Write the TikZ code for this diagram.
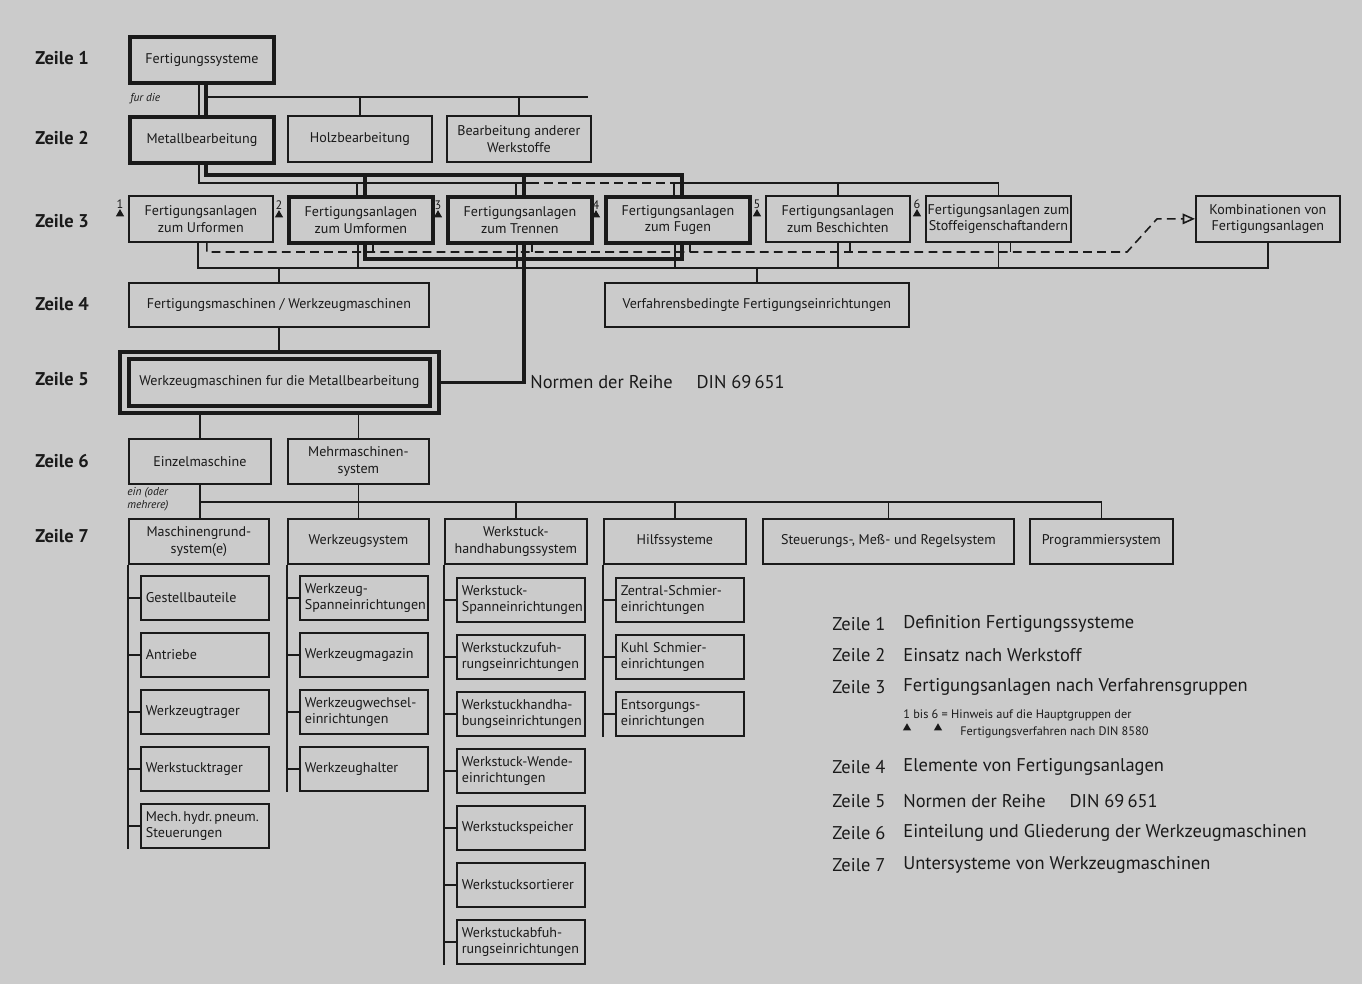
\documentclass[tikz,border=0pt]{standalone}
\usepackage{fontspec}
\setmainfont{PT Sans}
\usetikzlibrary{arrows.meta,positioning,calc,shapes.geometric}
\definecolor{paper}{HTML}{CBCBCB}
\definecolor{ink}{HTML}{1A1A1A}

\begin{document}
\begin{tikzpicture}[x=0.02cm,y=-0.02cm,ink,font=\fontsize{8}{9.4}\selectfont,
  box/.style={draw,line width=1pt,anchor=north west,align=center,inner sep=1pt,minimum width=2.88cm,minimum height=0.93cm},
  sub/.style={draw,line width=1pt,anchor=north west,align=left,inner xsep=0.1cm,inner ysep=1pt,text width=2.36cm,minimum height=0.88cm},
  ln/.style={line width=0.8pt}, bl/.style={line width=2pt},
  dsh/.style={line width=0.9pt,dash pattern=on 5pt off 3pt},
  zeile/.style={font=\fontsize{10.5}{12}\selectfont\bfseries,anchor=west,inner sep=0pt},
  leg/.style={font=\fontsize{10.5}{12}\selectfont,anchor=west,inner sep=0pt},
  small/.style={font=\fontsize{7}{8}\selectfont,anchor=west,inner sep=0pt},
  tri/.style={regular polygon,regular polygon sides=3,fill,inner sep=0pt,minimum size=0.19cm},
  note/.style={font=\fontsize{6.5}{7.2}\selectfont\itshape,anchor=west,align=left,inner sep=0pt}]
\fill[paper] (0,0) rectangle (1362,984);
\useasboundingbox (0,0) rectangle (1362,984);

% Zeilen links
\foreach \y/\k in {58/1,138/2,221/3,304/4,379/5,461/6,536/7}
  \node[zeile] (z\k) at (35,\y) {Zeile \k};

% Zeile 1 und 2
\node[box,line width=2.2pt] (fs) at (128,35) {Fertigungssysteme};
\node[box,line width=2.2pt] (mb) at (128,115) {Metallbearbeitung};
\node[box] (hb) at (287,115) {Holzbearbeitung};
\node[box] (bw) at (446,115) {Bearbeitung anderer\\Werkstoffe};
\node[note] (fd) at (130,99) {fur die};

% Zeile 3
\foreach \x/\n/\w/\t/\k in {128/ur/1/{Fertigungsanlagen\\zum Urformen}/1,
    287/um/2.2/{Fertigungsanlagen\\zum Umformen}/2, 446/tr/2.2/{Fertigungsanlagen\\zum Trennen}/3,
    604/fu/2.2/{Fertigungsanlagen\\zum Fugen}/4, 765/be/1/{Fertigungsanlagen\\zum Beschichten}/5,
    925/st/1/{Fertigungsanlagen zum\\Stoffeigenschaftandern}/6}{
  \node[box,line width=\w pt,minimum height=0.92cm] (\n) at (\x,195) {\t};
  \node[tri] (t\k) at ($(\n.west)+(-8,-5)$) {};
  \node[small,anchor=center] (k\k) at ($(\n.west)+(-8,-15)$) {\k};}
\node[box,minimum height=0.92cm] (ko) at (1195,195) {Kombinationen von\\Fertigungsanlagen};

% Zeile 4 und 5
\node[box,minimum width=6cm,minimum height=0.88cm] (fm) at (128,282) {Fertigungsmaschinen / Werkzeugmaschinen};
\node[box,minimum width=6.08cm,minimum height=0.88cm] (vf) at (604,282) {Verfahrensbedingte Fertigungseinrichtungen};
\node[box,line width=2.2pt,minimum width=6.38cm,minimum height=1.22cm] (wmo) at (118,350) {};
\node[box,line width=2.2pt,minimum width=6.02cm,minimum height=0.94cm] (wm) at (127,357) {Werkzeugmaschinen fur die Metallbearbeitung};
\node[leg] (din) at (530,382) {Normen der Reihe\hspace{1.3em}DIN 69\,651};

% Zeile 6 und 7
\node[box,minimum width=2.84cm,minimum height=0.9cm] (ez) at (128,438) {Einzelmaschine};
\node[box,minimum width=2.82cm,minimum height=0.9cm] (mm) at (287,438) {Mehrmaschinen-\\system};
\node[note] (em) at (127,499) {ein (oder\\mehrere)};
\foreach \x/\n/\w/\t in {128/mg/2.8/{Maschinengrund-\\system(e)}, 287/wz/2.82/Werkzeugsystem,
    444/wh/2.84/{Werkstuck-\\handhabungssystem}, 603/hs/2.84/Hilfssysteme,
    762/sm/5.02/{Steuerungs-, Meß- und Regelsystem}, 1029/pg/2.86/Programmiersystem}
  \node[box,minimum width=\w cm,minimum height=0.9cm] (\n) at (\x,518) {\t};

% Untersysteme
\foreach \t [count=\i] in {Gestellbauteile, Antriebe, Werkzeugtrager, Werkstucktrager, {Mech.\,hydr.\,pneum.\\Steuerungen}}{
  \node[sub] (a\i) at (140,518+57*\i) {\t};
  \draw[ln] (a\i.west) -- (a\i.west -| mg.south west);}
\foreach \t [count=\i] in {{Werkzeug-\\Spanneinrichtungen}, Werkzeugmagazin, {Werkzeugwechsel-\\einrichtungen}, Werkzeughalter}{
  \node[sub] (b\i) at (299,518+57*\i) {\t};
  \draw[ln] (b\i.west) -- (b\i.west -| wz.south west);}
\foreach \t [count=\i] in {{Werkstuck-\\Spanneinrichtungen}, {Werkstuckzufuh-\\rungseinrichtungen},
    {Werkstuckhandha-\\bungseinrichtungen}, {Werkstuck-Wende-\\einrichtungen}, Werkstuckspeicher,
    Werkstucksortierer, {Werkstuckabfuh-\\rungseinrichtungen}}{
  \node[sub] (c\i) at (456,520+57*\i) {\t};
  \draw[ln] (c\i.west) -- (c\i.west -| wh.south west);}
\foreach \t [count=\i] in {{Zentral-Schmier-\\einrichtungen}, {Kuhl Schmier-\\einrichtungen}, {Entsorgungs-\\einrichtungen}}{
  \node[sub] (d\i) at (615,520+57*\i) {\t};
  \draw[ln] (d\i.west) -- (d\i.west -| hs.south west);}
\draw[ln] (mg.south west) -- (mg.south west |- a5.south);
\draw[ln] (wz.south west) -- (wz.south west |- b4.south);
\draw[ln] (wh.south west) -- (wh.south west |- c7.south);
\draw[ln] (hs.south west) -- (hs.south west |- d3.south);

% Verbindungen Zeile 1-2
\coordinate (tb) at (0,97);
\draw[bl] ($(fs.south)+(4,0)$) -- ($(mb.north)+(4,0)$);
\draw[ln] ($(fs.south)+(-3,0)$) -- ($(mb.north)+(-3,0)$);
\draw[ln] ($(fs.south |- tb)+(4,0)$) -- ($(bw.north east |- tb)+(-4,0)$);
\draw[ln] (hb.north) -- (hb.north |- tb);
\draw[ln] (bw.north) -- (bw.north |- tb);

% Verbindungen Zeile 2-3
\coordinate (kb) at (0,175); \coordinate (ub) at (0,183);
\draw[ln] ($(mb.south)+(-3,0)$) |- ($(tr.north |- ub)+(10,0)$);
\draw[dsh] ($(tr.north |- ub)+(10,0)$) -- ($(fu.north |- ub)+(-4,0)$);
\draw[ln] ($(fu.north |- ub)+(-4,0)$) -- (st.north |- ub) -- (st.north);
\foreach \n in {um,tr,fu} \draw[ln] ($(\n.north)+(-4,0)$) -- ($(\n.north |- ub)+(-4,0)$);
\draw[ln] (be.north) -- (be.north |- ub);
\draw[bl] ($(mb.south)+(4,0)$) |- ($(fu.north |- kb)+(4,0)$) -- ($(fu.north)+(4,0)$);
\foreach \n in {um,tr} \draw[bl] ($(\n.north)+(4,0)$) -- ($(\n.north |- kb)+(4,0)$);

% Verbindungen Zeile 3-4
\coordinate (db) at (0,252); \coordinate (bb) at (0,259); \coordinate (lb) at (0,268);
\draw[ln] ($(ur.south)+(-3,0)$) |- (ko.south |- lb) -- (ko.south);
\foreach \n in {um,tr,fu} \draw[ln] ($(\n.south)+(-3,0)$) -- ($(\n.south |- lb)+(-3,0)$);
\foreach \n in {be,st} \draw[ln] (\n.south) -- (\n.south |- lb);
\draw[ln] (fm.north) -- (fm.north |- lb);
\draw[ln] (vf.north) -- (vf.north |- lb);
\draw[dsh,-{Triangle[open,length=7pt,width=6pt]}] ($(ur.south)+(6,0)$) |- ($(ko.west |- db)+(-68,0)$)
  -- ($(ko.west)+(-38,0)$) -- (ko.west);
\foreach \n in {um,tr,fu,be,st} \draw[dsh] ($(\n.south)+(12,0)$) -- ($(\n.south |- db)+(12,0)$);
\draw[bl] ($(um.south)+(4,0)$) |- ($(fu.south |- bb)+(4,0)$) -- ($(fu.south)+(4,0)$);
\draw[bl] ($(tr.south)+(4,0)$) |- (wmo.east);

% Verbindungen Zeile 4-7
\draw[ln] (fm.south) -- (fm.south |- wmo.north);
\draw[ln] (ez.north) -- (ez.north |- wmo.south);
\draw[ln] (mm.north) -- (mm.north |- wmo.south);
\coordinate (sb) at (0,502);
\draw[ln] (ez.south) -- (ez.south |- mg.north);
\draw[ln] (mm.south) -- (mm.south |- wz.north);
\draw[ln] (ez.south |- sb) -| (pg.north);
\foreach \n in {wh,hs,sm} \draw[ln] (\n.north) -- (\n.north |- sb);

% Legende
\foreach \y/\k/\t in {624/1/Definition Fertigungssysteme, 655/2/Einsatz nach Werkstoff,
    687/3/Fertigungsanlagen nach Verfahrensgruppen, 767/4/Elemente von Fertigungsanlagen,
    801/5/{Normen der Reihe\hspace{1.3em}DIN 69\,651}, 833/6/Einteilung und Gliederung der Werkzeugmaschinen,
    865/7/Untersysteme von Werkzeugmaschinen}{
  \node[leg] (l\k) at (832,\y) {Zeile \k};
  \node[leg] (e\k) at (903,\y) {\t};}
\node[small] (n1) at (903,715) {1 bis 6 = Hinweis auf die Hauptgruppen der};
\node[small] (n2) at (960,732) {Fertigungsverfahren nach DIN 8580};
\node[tri] (na) at (907,728) {};
\node[tri] (nb) at (938,728) {};
\end{tikzpicture}
\end{document}
